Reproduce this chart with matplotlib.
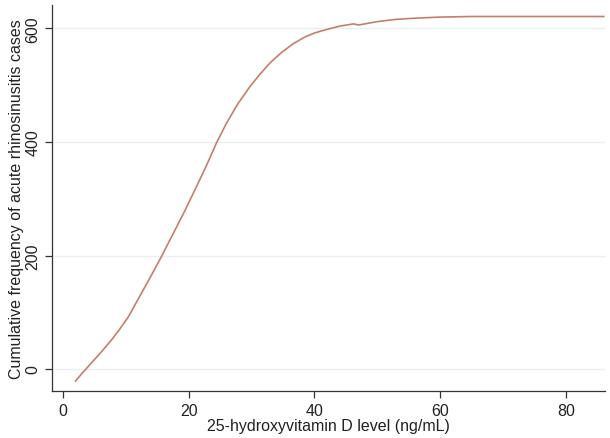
import matplotlib
matplotlib.use("Agg")
import matplotlib.pyplot as plt

plt.rcParams['font.family'] = ['Liberation Sans', 'DejaVu Sans']

# values
vit_d = [2, 3, 4.3, 6, 7.7, 9, 10.4, 12.2, 14, 15.7, 17.5, 19.3, 21, 22.8,
         24.4, 26, 27.8, 29.7, 31.3, 33, 34.8, 36.6, 38.5, 40, 41.9, 44,
         46.2, 47, 48, 50, 53, 56, 60, 65, 70, 86]
cum_freq = [-21, -8, 8, 29, 51, 70, 92, 128, 164, 199, 238, 277, 316, 358,
            398, 433, 467, 497, 519, 540, 558, 573, 585, 592, 598, 604,
            608, 606, 608, 612, 616, 618, 620, 621, 621, 621]

x_ticks = [0, 20, 40, 60, 80]
y_ticks = [0, 200, 400, 600]

fig = plt.figure(figsize=(6.1, 4.39), dpi=100)
ax = fig.add_axes([0.0852, 0.107, 0.9066, 0.879])

ax.plot(vit_d, cum_freq, color='#c47f6a', linewidth=1.2)

ax.set_xlim(-1.75, 86.2)
ax.set_ylim(-38.7, 641)
ax.set_xticks(x_ticks)
ax.set_yticks(y_ticks)
ax.set_yticklabels([str(v) for v in y_ticks], rotation=90, va='center')
ax.yaxis.grid(True, color='#e8f0f3', linewidth=1)
ax.set_axisbelow(True)

for s in ['top', 'right']:
    ax.spines[s].set_visible(False)
for s in ['left', 'bottom']:
    ax.spines[s].set_color('#333333')
    ax.spines[s].set_linewidth(0.9)
ax.tick_params(direction='out', length=5, width=0.9, color='#333333',
               labelsize=11.5, labelcolor='#222222', pad=3.5)

ax.set_xlabel('25-hydroxyvitamin D level (ng/mL)', fontsize=11.5,
              color='#222222', labelpad=0)
ax.set_ylabel('Cumulative frequency of acute rhinosinusitis cases',
              fontsize=11.5, color='#222222', labelpad=1)

fig.savefig('out.png', dpi=100)
